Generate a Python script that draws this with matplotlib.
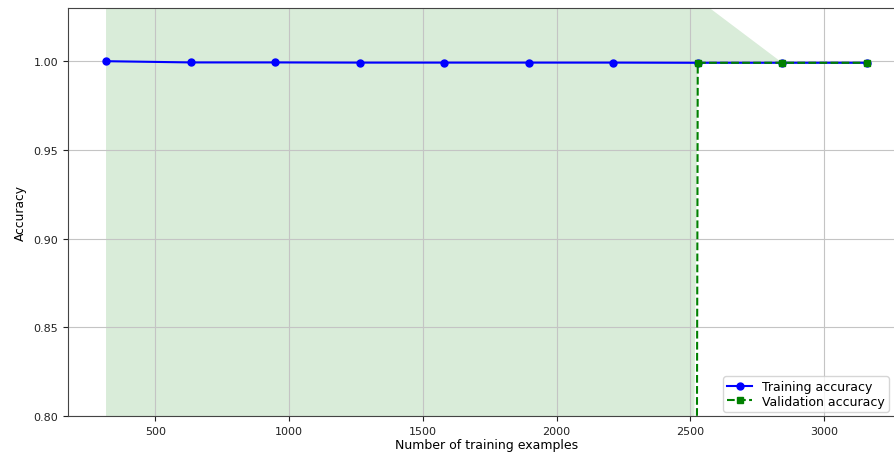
import numpy as np
import matplotlib
matplotlib.use("Agg")
import matplotlib.pyplot as plt

# Learning-curve results
train_sizes = [316, 632, 948, 1264, 1580, 1896, 2212, 2528, 2844, 3160]
train_mean = [1.0000, 0.9993, 0.9993, 0.9992, 0.9992, 0.9992, 0.9992, 0.9991, 0.9991, 0.9991]
val_mean = [-20.0, -20.0, -20.0, -20.0, -20.0, -20.0, -20.0, 0.9991, 0.9991, 0.9991]
val_band_low = [-4.0, -4.0, -4.0, -4.0, -4.0, -4.0, -4.0, 0.9990, 0.9991, 0.9991]
val_band_high = [5.0, 5.0, 5.0, 5.0, 5.0, 5.0, 5.0, 1.035, 0.9991, 0.9991]
y_limits = (0.80, 1.03)

fig = plt.figure(figsize=(8.94, 4.60), dpi=100)
ax = fig.add_axes([0.0761, 0.0935, 0.936, 0.887])

ax.plot(train_sizes, train_mean, color="blue", marker="o", markersize=5,
        linewidth=1.5, label="Training accuracy")
ax.plot(train_sizes, val_mean, color="green", linestyle="--", marker="s",
        markersize=5, linewidth=1.5, label="Validation accuracy")
ax.fill_between(train_sizes, val_band_low, val_band_high, color="green",
                alpha=0.15, linewidth=0)

ax.set_ylim(*y_limits)
ax.set_xlim(174, 3302)
ax.set_yticks([0.80, 0.85, 0.90, 0.95, 1.00])
ax.set_xticks([500, 1000, 1500, 2000, 2500, 3000])
ax.grid(True, color="#c4c4c4")
for s in ax.spines.values():
    s.set_color("#444444")
ax.tick_params(labelsize=8, colors="#222222")
ax.set_xlabel("Number of training examples", fontsize=9, labelpad=2)
ax.set_ylabel("Accuracy", fontsize=8.8, labelpad=5)
ax.legend(loc="lower right", bbox_to_anchor=(0.986, 0.0), fontsize=9,
          labelspacing=0.15, borderpad=0.3, borderaxespad=0.35)

fig.savefig("out.png", dpi=100)
